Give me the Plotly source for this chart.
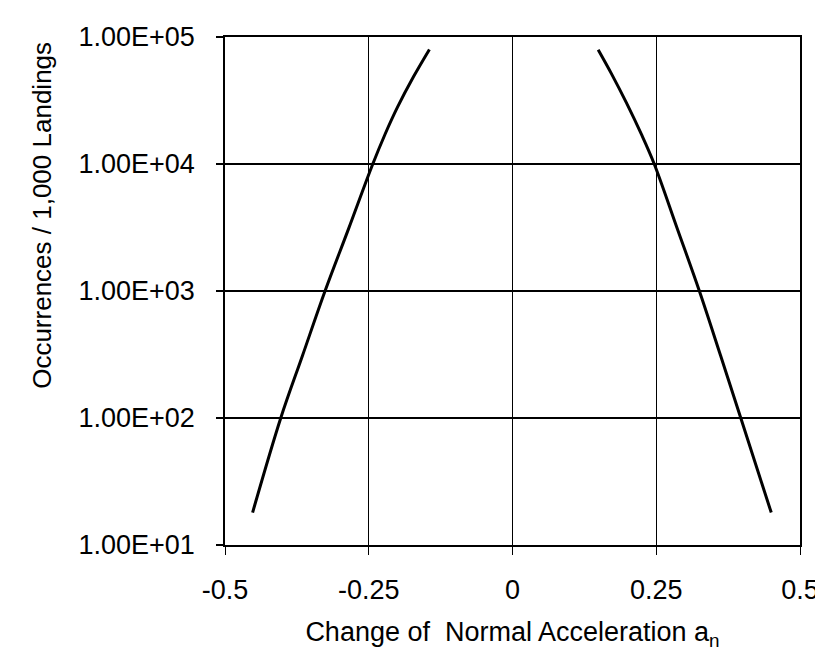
import plotly.graph_objects as go

# Left (negative) branch
left_x = [-0.452, -0.403, -0.365, -0.326, -0.285, -0.243, -0.222, -0.200, -0.172, -0.1445]
left_y = [18, 100, 312, 1000, 3100, 10000, 17000, 28000, 48800, 79800]

# Right (positive) branch
right_x = [0.149, 0.172, 0.198, 0.2245, 0.2465, 0.286, 0.325, 0.362, 0.397, 0.450]
right_y = [79400, 51500, 30400, 17000, 10000, 3150, 1000, 309, 100, 18]

x_ticks = [-0.5, -0.25, 0, 0.25, 0.5]
x_tick_labels = ["-0.5", "-0.25", "0", "0.25", "0.5"]
y_ticks = [10, 100, 1000, 10000, 100000]
y_tick_labels = ["1.00E+01", "1.00E+02", "1.00E+03", "1.00E+04", "1.00E+05"]

FONT = "Liberation Sans, Arial, Helvetica, sans-serif"

fig = go.Figure()
for xs, ys in [(left_x, left_y), (right_x, right_y)]:
    fig.add_trace(go.Scatter(
        x=xs, y=ys, mode="lines",
        line=dict(color="black", width=3, shape="spline", smoothing=1.0),
        showlegend=False, hoverinfo="skip",
    ))

fig.update_layout(
    width=823, height=651,
    margin=dict(l=217, r=19, t=29, b=114),
    paper_bgcolor="white", plot_bgcolor="white",
    font=dict(family=FONT, size=27, color="black"),
    xaxis=dict(
        range=[-0.5, 0.5], tickvals=x_ticks, ticktext=x_tick_labels,
        showgrid=True, gridcolor="black", gridwidth=1,
        zeroline=False, showline=True, linecolor="black", linewidth=1.5, mirror=True,
        ticks="outside", ticklen=8, tickcolor="black", tickwidth=1,
        ticklabelstandoff=12,
        title=dict(text="Change of  Normal Acceleration a<sub>n</sub>",
                   font=dict(size=27), standoff=18),
    ),
    yaxis=dict(
        type="log", range=[1, 5], tickvals=y_ticks, ticktext=y_tick_labels,
        showgrid=True, gridcolor="black", gridwidth=1.5,
        zeroline=False, showline=True, linecolor="black", linewidth=1.5, mirror=True,
        ticks="outside", ticklen=7, tickcolor="black", tickwidth=1.5,
        ticklabelstandoff=16,
    ),
    annotations=[dict(
        text="Occurrences / 1,000 Landings", textangle=-90,
        xref="paper", yref="paper",
        x=(30 - 217) / 587, y=(537 - 207) / 508,
        xanchor="center", yanchor="middle", showarrow=False,
        font=dict(size=26, family=FONT, color="black"),
    )],
)

fig.write_html("out.html")
